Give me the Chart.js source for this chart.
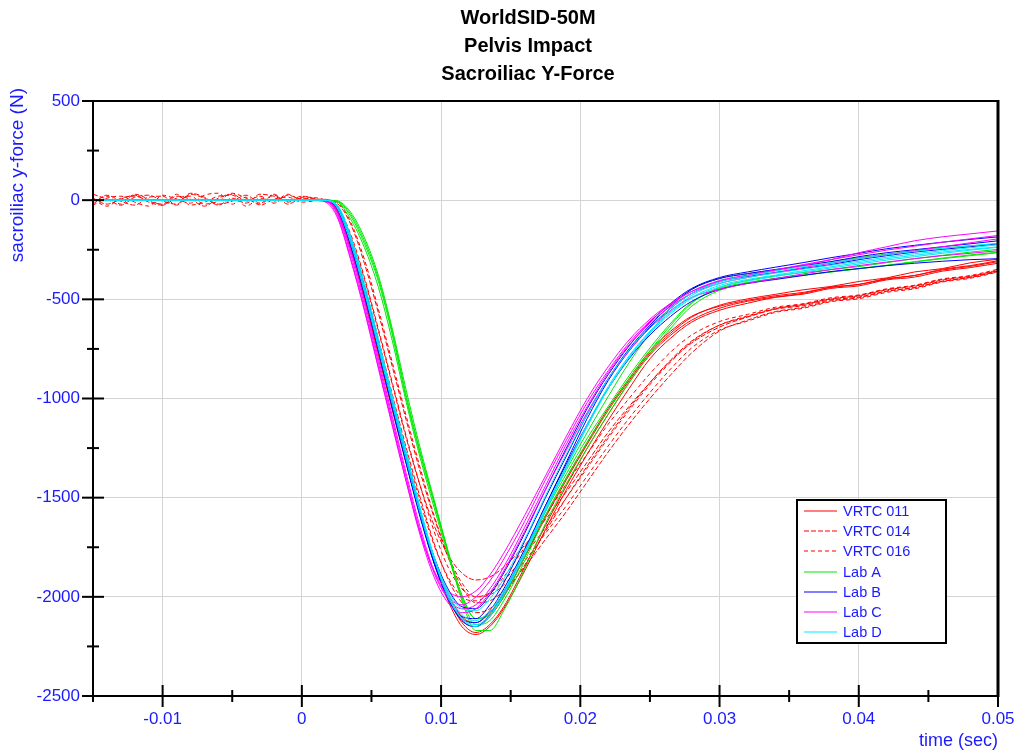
<!DOCTYPE html>
<html>
<head>
<meta charset="utf-8">
<title>WorldSID-50M Sacroiliac Y-Force</title>
<script src="https://cdn.jsdelivr.net/npm/chart.js@4.4.0/dist/chart.umd.min.js"></script>
<style>
  html, body { margin: 0; padding: 0; background: #fff; }
</style>
</head>
<body>
<canvas id="chart" width="1023" height="755"></canvas>
<script>
// --- data (N vs sec) ---
const titleLines = ['WorldSID-50M', 'Pelvis Impact', 'Sacroiliac Y-Force'];

const xTickValues = [-0.01, 0, 0.01, 0.02, 0.03, 0.04, 0.05];
const xTickLabels = ['-0.01', '0', '0.01', '0.02', '0.03', '0.04', '0.05'];
const xMinorTicks = [-0.015, -0.005, 0.005, 0.015, 0.025, 0.035, 0.045];
const yTickValues = [-2500, -2000, -1500, -1000, -500, 0, 500];
const yTickLabels = ['-2500', '-2000', '-1500', '-1000', '-500', '0', '500'];
const yMinorTicks = [250, -250, -750, -1250, -1750, -2250];

// pre-trigger samples
const timeFlat = [-0.015, 0];
const preFlat = [0, 0];
const timePre = [-0.015, -0.014, -0.013, -0.012, -0.011, -0.010, -0.009, -0.008,
                 -0.007, -0.006, -0.005, -0.004, -0.003, -0.002, -0.001, 0];

// pulse samples
const timePulse = [0.0015, 0.0025, 0.0035, 0.0045, 0.0055, 0.0065, 0.0075, 0.0085, 0.0095, 0.0105,
                   0.0115, 0.0125, 0.0135, 0.0145, 0.016, 0.0175, 0.019, 0.0205, 0.022, 0.0235,
                   0.025, 0.0265, 0.028, 0.030, 0.032, 0.034, 0.036, 0.038, 0.040, 0.042,
                   0.044, 0.046, 0.048, 0.050];

const vrtc011 = [
  [0,-50,-240,-490,-770,-1050,-1320,-1580,-1820,-2000,-2130,-2180,-2140,-2050,-1850,-1640,-1440,-1250,-1080,-920,-780,-680,-605,-545,-510,-488,-470,-438,-425,-395,-380,-348,-330,-305],
  [0,-40,-220,-470,-750,-1030,-1300,-1570,-1810,-2000,-2120,-2150,-2100,-2000,-1800,-1600,-1410,-1230,-1060,-910,-770,-670,-590,-530,-498,-475,-452,-435,-410,-392,-362,-345,-316,-298],
  [0,-55,-250,-500,-780,-1060,-1330,-1590,-1830,-2020,-2150,-2190,-2150,-2060,-1870,-1660,-1460,-1280,-1110,-950,-800,-695,-615,-555,-520,-490,-474,-445,-432,-402,-388,-358,-340,-318],
  [0,-45,-230,-480,-760,-1040,-1310,-1570,-1800,-1980,-2100,-2130,-2080,-1990,-1800,-1590,-1400,-1220,-1050,-900,-760,-660,-585,-535,-505,-482,-465,-440,-425,-398,-380,-352,-334,-310]
];
const vrtc014Pre = [
  [10,-20,5,25,-10,-25,20,5,-30,10,30,-5,20,-15,25,5],
  [-20,25,-5,-25,15,20,-25,30,10,-20,-5,25,-15,30,-20,10],
  [30,5,-25,15,25,-5,-20,35,15,-25,10,-15,30,20,-5,20]
];
const vrtc014 = [
  [5,-30,-180,-400,-660,-930,-1200,-1440,-1640,-1790,-1880,-1915,-1900,-1850,-1740,-1610,-1470,-1320,-1170,-1040,-920,-810,-720,-640,-590,-548,-526,-498,-481,-450,-432,-400,-384,-356],
  [0,-15,-120,-320,-570,-840,-1110,-1370,-1600,-1800,-1950,-2030,-2020,-1970,-1850,-1710,-1570,-1420,-1270,-1130,-1000,-880,-770,-660,-605,-562,-540,-508,-492,-460,-442,-410,-390,-360],
  [-5,-35,-200,-430,-700,-980,-1250,-1500,-1730,-1910,-2030,-2080,-2060,-1990,-1840,-1670,-1500,-1340,-1190,-1050,-920,-805,-710,-630,-588,-550,-532,-503,-488,-458,-440,-408,-389,-358]
];
const vrtc016Pre = [
  [-25,10,20,-10,-30,25,5,-15,25,35,-20,15,-25,5,15,-10],
  [5,-30,10,20,-5,-20,30,-25,-10,20,25,-30,10,-5,30,0],
  [-5,20,-20,30,5,-25,10,20,-20,-5,35,10,-20,25,-10,15]
];
const vrtc016 = [
  [0,-25,-170,-390,-650,-920,-1190,-1440,-1670,-1850,-1960,-2000,-1980,-1920,-1790,-1650,-1500,-1350,-1200,-1060,-930,-815,-715,-630,-584,-546,-526,-497,-482,-452,-434,-403,-384,-352],
  [0,-10,-110,-300,-550,-820,-1090,-1350,-1590,-1790,-1930,-2000,-1990,-1940,-1820,-1680,-1540,-1390,-1240,-1100,-970,-850,-745,-655,-610,-566,-545,-512,-497,-465,-447,-413,-394,-362],
  [5,-40,-210,-450,-720,-1000,-1270,-1520,-1740,-1900,-2000,-2020,-1980,-1900,-1750,-1590,-1430,-1280,-1130,-1000,-875,-765,-680,-612,-576,-540,-522,-492,-478,-447,-429,-397,-380,-348]
];
const labA = [
  [0,-5,-80,-220,-410,-680,-1000,-1280,-1530,-1780,-2010,-2140,-2120,-2020,-1820,-1590,-1400,-1220,-1060,-900,-760,-630,-520,-440,-405,-382,-365,-350,-335,-315,-295,-278,-262,-248],
  [0,-3,-60,-190,-380,-650,-960,-1250,-1510,-1770,-2020,-2170,-2170,-2070,-1860,-1630,-1430,-1250,-1080,-920,-775,-645,-535,-455,-418,-395,-378,-362,-345,-328,-310,-292,-276,-262],
  [0,-8,-95,-240,-440,-710,-1020,-1300,-1550,-1790,-2000,-2110,-2080,-1980,-1780,-1560,-1360,-1170,-990,-820,-670,-540,-450,-395,-372,-350,-330,-310,-290,-272,-256,-242,-230,-220],
  [0,-4,-70,-205,-395,-665,-985,-1270,-1520,-1770,-1990,-2110,-2090,-2000,-1800,-1570,-1380,-1200,-1040,-885,-745,-620,-515,-445,-415,-395,-378,-362,-346,-330,-312,-295,-280,-265]
];
const labB = [
  [0,-40,-230,-480,-760,-1050,-1330,-1600,-1830,-2000,-2100,-2110,-2040,-1930,-1720,-1500,-1290,-1080,-900,-750,-630,-530,-450,-395,-370,-350,-330,-310,-285,-265,-250,-235,-220,-205],
  [0,-25,-190,-440,-720,-1010,-1290,-1570,-1820,-2010,-2120,-2150,-2090,-1980,-1770,-1540,-1320,-1100,-910,-760,-640,-545,-470,-410,-385,-365,-345,-325,-300,-280,-262,-248,-235,-220],
  [0,-30,-210,-460,-740,-1030,-1310,-1580,-1800,-1960,-2050,-2060,-1990,-1880,-1680,-1460,-1250,-1050,-880,-735,-615,-520,-445,-390,-362,-338,-315,-290,-268,-245,-228,-212,-198,-185],
  [0,-35,-220,-470,-750,-1040,-1320,-1590,-1830,-2010,-2110,-2130,-2070,-1960,-1760,-1540,-1330,-1130,-950,-800,-680,-585,-510,-450,-420,-400,-380,-360,-345,-330,-318,-308,-300,-295]
];
const labC = [
  [-5,-80,-300,-560,-850,-1140,-1420,-1680,-1870,-1970,-2000,-1970,-1890,-1780,-1590,-1390,-1190,-1000,-840,-705,-600,-520,-460,-410,-380,-355,-330,-300,-265,-235,-205,-185,-170,-155],
  [0,-60,-270,-530,-820,-1110,-1400,-1670,-1880,-2010,-2060,-2040,-1960,-1850,-1650,-1440,-1230,-1040,-870,-730,-620,-535,-470,-420,-390,-365,-340,-318,-295,-275,-255,-235,-215,-195],
  [0,-70,-290,-550,-840,-1130,-1420,-1690,-1900,-2030,-2080,-2060,-1980,-1870,-1670,-1460,-1260,-1070,-900,-760,-645,-555,-490,-450,-420,-395,-372,-350,-330,-312,-295,-280,-268,-255],
  [0,-50,-250,-510,-800,-1090,-1380,-1650,-1870,-2000,-2040,-2000,-1920,-1810,-1620,-1410,-1210,-1020,-860,-720,-610,-525,-460,-405,-378,-352,-325,-300,-275,-252,-232,-212,-195,-178]
];
const labD = [
  [0,-30,-200,-450,-730,-1010,-1290,-1560,-1800,-1980,-2090,-2120,-2070,-1970,-1770,-1550,-1340,-1130,-940,-785,-660,-560,-480,-420,-390,-368,-348,-328,-308,-288,-270,-255,-240,-225],
  [0,-20,-180,-420,-700,-990,-1270,-1550,-1800,-1990,-2110,-2150,-2100,-1990,-1790,-1570,-1350,-1140,-950,-790,-665,-565,-490,-430,-400,-378,-356,-336,-315,-295,-278,-262,-248,-235],
  [0,-35,-215,-465,-745,-1030,-1310,-1580,-1810,-1970,-2060,-2070,-2010,-1910,-1710,-1490,-1280,-1080,-900,-755,-635,-545,-470,-412,-382,-358,-335,-315,-295,-275,-258,-243,-230,-218],
  [0,-25,-190,-440,-720,-1000,-1280,-1560,-1810,-2000,-2110,-2140,-2090,-1980,-1780,-1560,-1345,-1140,-950,-795,-670,-572,-495,-438,-408,-385,-362,-342,-322,-302,-285,-268,-252,-238]
];

// --- styles ---
const seriesStyle = {
  'VRTC 011': { color: '#ff0000', dash: [] },
  'VRTC 014': { color: '#ff0000', dash: [5, 2] },
  'VRTC 016': { color: '#ff0000', dash: [4, 3] },
  'Lab A':    { color: '#00e800', dash: [] },
  'Lab B':    { color: '#0000ff', dash: [] },
  'Lab C':    { color: '#ff00ff', dash: [] },
  'Lab D':    { color: '#00e8ff', dash: [] }
};
const legendOrder = ['VRTC 011', 'VRTC 014', 'VRTC 016', 'Lab A', 'Lab B', 'Lab C', 'Lab D'];
const blueText = '#1a1aff';
const fontFamily = 'Arial, "Liberation Sans", sans-serif';

function toPoints(times, values) {
  return times.map((t, i) => ({ x: t, y: values[i] }));
}

const datasets = [];
function addGroup(label, curves, preCurves) {
  const st = seriesStyle[label];
  curves.forEach((vals, k) => {
    const pre = preCurves ? toPoints(timePre, preCurves[k]) : toPoints(timeFlat, preFlat);
    datasets.push({
      label: label,
      data: pre.concat(toPoints(timePulse, vals)),
      borderColor: st.color,
      borderDash: st.dash,
      borderWidth: 1,
      pointRadius: 0,
      fill: false,
      cubicInterpolationMode: 'monotone'
    });
  });
}
addGroup('Lab D', labD);
addGroup('Lab C', labC);
addGroup('Lab B', labB);
addGroup('Lab A', labA);
addGroup('VRTC 011', vrtc011);
addGroup('VRTC 014', vrtc014, vrtc014Pre);
addGroup('VRTC 016', vrtc016, vrtc016Pre);

// frame, tick marks, titles and boxed legend
const decor = {
  id: 'decor',
  afterDraw(chart) {
    const ctx = chart.ctx;
    const a = chart.chartArea;
    const xs = chart.scales.x, ys = chart.scales.y;
    const seg = (x1, y1, x2, y2) => { ctx.beginPath(); ctx.moveTo(x1, y1); ctx.lineTo(x2, y2); ctx.stroke(); };
    ctx.save();

    ctx.fillStyle = '#000';
    ctx.font = 'bold 20px ' + fontFamily;
    ctx.textAlign = 'center';
    ctx.textBaseline = 'middle';
    titleLines.forEach((s, i) => ctx.fillText(s, 528, 18 + i * 28));

    ctx.strokeStyle = '#000';
    ctx.lineWidth = 2;
    ctx.strokeRect(a.left, a.top, a.right - a.left, a.bottom - a.top);
    ctx.lineWidth = 3;
    seg(a.right, a.top - 1, a.right, a.bottom + 1);

    ctx.lineWidth = 2;
    xTickValues.forEach(v => { const p = xs.getPixelForValue(v); seg(p, a.bottom - 11, p, a.bottom + 11); });
    xMinorTicks.forEach(v => { const p = xs.getPixelForValue(v); seg(p, a.bottom - 6, p, a.bottom + 6); });
    yTickValues.forEach(v => { const p = ys.getPixelForValue(v); seg(a.left - 11, p, a.left + 11, p); });
    yMinorTicks.forEach(v => { const p = ys.getPixelForValue(v); seg(a.left - 6, p, a.left + 6, p); });

    ctx.fillStyle = blueText;
    ctx.textAlign = 'right';
    ctx.font = '18px ' + fontFamily;
    ctx.fillText('time (sec)', a.right, 741);
    ctx.save();
    ctx.font = '19px ' + fontFamily;
    ctx.translate(18, 88);
    ctx.rotate(-Math.PI / 2);
    ctx.fillText('sacroiliac y-force (N)', 0, 0);
    ctx.restore();

    // legend box
    const bx = 797, by = 500, bw = 149, bh = 143;
    ctx.fillStyle = '#fff';
    ctx.fillRect(bx, by, bw, bh);
    ctx.lineWidth = 2;
    ctx.strokeStyle = '#000';
    ctx.strokeRect(bx, by, bw, bh);
    ctx.font = '14.5px ' + fontFamily;
    ctx.textAlign = 'left';
    legendOrder.forEach((name, i) => {
      const st = seriesStyle[name];
      const y = Math.round(by + 11 + i * 20.2);
      ctx.strokeStyle = st.color;
      ctx.lineWidth = 1.2;
      ctx.setLineDash(st.dash);
      seg(804, y, 837, y);
      ctx.setLineDash([]);
      ctx.fillStyle = blueText;
      ctx.fillText(name, 843, y + 1);
    });
    ctx.restore();
  }
};

Chart.defaults.font.family = fontFamily;

new Chart(document.getElementById('chart'), {
  type: 'line',
  data: { datasets: datasets },
  options: {
    responsive: false,
    animation: false,
    layout: { padding: { top: 101, right: 25, left: 0, bottom: 0 } },
    plugins: { legend: { display: false }, tooltip: { enabled: false }, title: { display: false } },
    scales: {
      x: {
        type: 'linear',
        min: -0.015,
        max: 0.05,
        afterBuildTicks: scale => { scale.ticks = xTickValues.map(v => ({ value: v })); },
        afterFit: scale => { scale.height = 59; scale.paddingLeft = 0; scale.paddingRight = 0; },
        border: { display: false },
        grid: { color: '#d4d4d4', lineWidth: 1, drawTicks: false },
        ticks: {
          autoSkip: false, maxRotation: 0, padding: 13,
          color: blueText, font: { size: 17 },
          callback: (v, i) => xTickLabels[i]
        }
      },
      y: {
        type: 'linear',
        min: -2500,
        max: 500,
        afterBuildTicks: scale => { scale.ticks = yTickValues.map(v => ({ value: v })); },
        afterFit: scale => { scale.width = 93; scale.paddingTop = 0; scale.paddingBottom = 0; },
        border: { display: false },
        grid: { color: '#d4d4d4', lineWidth: 1, drawTicks: false },
        ticks: {
          autoSkip: false, padding: 13,
          color: blueText, font: { size: 17 },
          callback: (v, i) => yTickLabels[i]
        }
      }
    }
  },
  plugins: [decor]
});
</script>
</body>
</html>
